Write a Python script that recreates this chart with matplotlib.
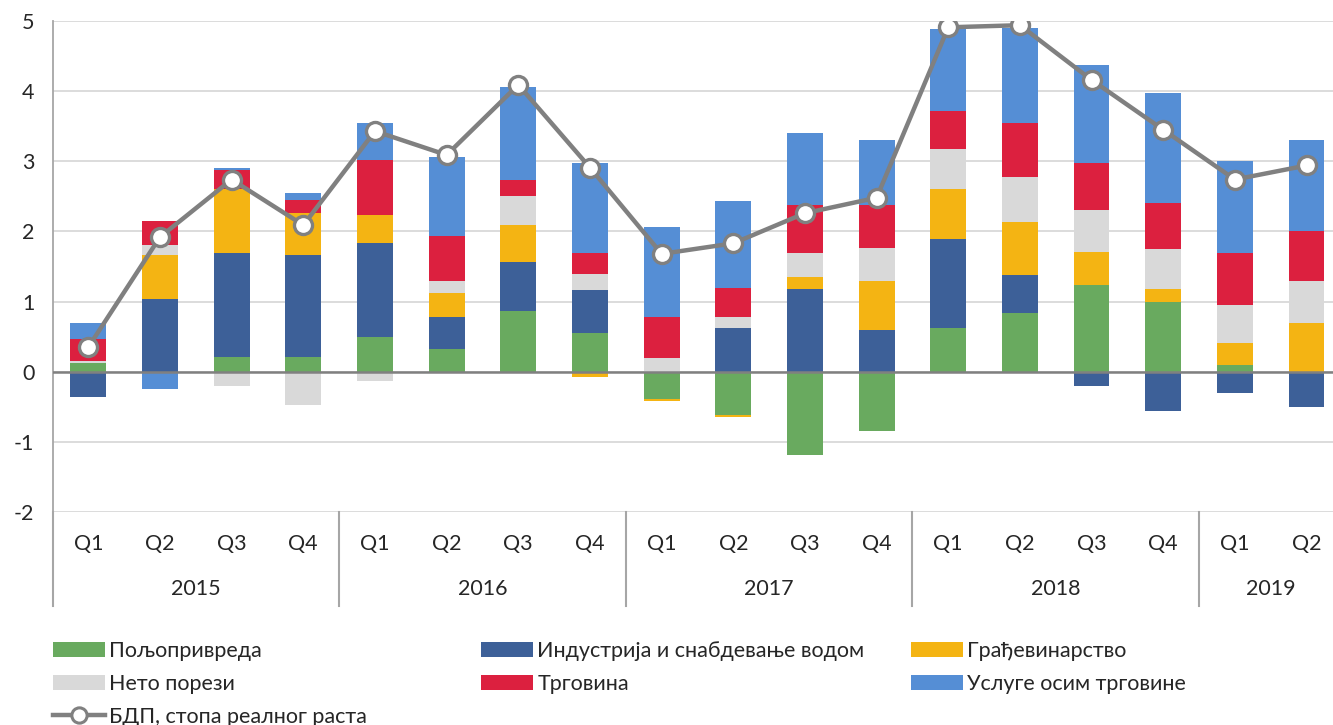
import matplotlib
matplotlib.use("Agg")
import matplotlib.pyplot as plt
import matplotlib.transforms as mtransforms
from matplotlib.patches import Patch
from matplotlib.lines import Line2D
import numpy as np

plt.rcParams['font.family'] = ['Lato', 'DejaVu Sans']
plt.rcParams['axes.unicode_minus'] = False

quarters = ["Q1", "Q2", "Q3", "Q4"] * 4 + ["Q1", "Q2"]
years = ["2015", "2016", "2017", "2018", "2019"]
year_sizes = [4, 4, 4, 4, 2]

agriculture  = [0.13, 0.00, 0.21, 0.21, 0.50, 0.32, 0.87, 0.55, -0.39, -0.62, -1.19, -0.85, 0.63, 0.83, 1.23, 1.00, 0.10, 0.00]
industry     = [-0.36, 1.03, 1.48, 1.45, 1.33, 0.46, 0.70, 0.62, 0.00, 0.63, 1.18, 0.60, 1.26, 0.55, -0.21, -0.56, -0.30, -0.50]
construction = [0.00, 0.63, 0.91, 0.60, 0.40, 0.34, 0.52, -0.08, -0.03, -0.02, 0.17, 0.69, 0.71, 0.76, 0.48, 0.18, 0.31, 0.70]
net_taxes    = [0.02, 0.14, -0.21, -0.47, -0.13, 0.17, 0.42, 0.23, 0.20, 0.15, 0.34, 0.48, 0.57, 0.63, 0.60, 0.57, 0.54, 0.59]
trade        = [0.31, 0.35, 0.28, 0.19, 0.79, 0.65, 0.23, 0.29, 0.58, 0.42, 0.68, 0.60, 0.54, 0.77, 0.66, 0.65, 0.74, 0.71]
services     = [0.23, -0.24, 0.03, 0.10, 0.52, 1.12, 1.32, 1.28, 1.28, 1.23, 1.03, 0.94, 1.17, 1.36, 1.40, 1.57, 1.31, 1.31]
gdp          = [0.35, 1.92, 2.74, 2.09, 3.43, 3.09, 4.09, 2.91, 1.68, 1.83, 2.26, 2.48, 4.91, 4.94, 4.16, 3.45, 2.74, 2.94]

series_names = ["Пољопривреда", "Индустрија и снабдевање водом", "Грађевинарство",
                "Нето порези", "Трговина", "Услуге осим трговине"]
gdp_name = "БДП, стопа реалног раста"
colors = ["#69AA5F", "#3D6098", "#F4B413", "#D9D9D9", "#DC203F", "#558ED5"]

FS = 15.5
TXT = "#262626"

fig = plt.figure(figsize=(13.33, 7.25), dpi=100)
W, H = 1333, 725
left_px, right_px, top_px, bottom_px = 52.5, 1333, 21, 512
ax = fig.add_axes([left_px / W, 1 - bottom_px / H, (right_px - left_px) / W, (bottom_px - top_px) / H])

cat_w = 71.66
x = np.arange(len(quarters))
data = [agriculture, industry, construction, net_taxes, trade, services]
pos_base = np.zeros(len(x))
neg_base = np.zeros(len(x))
for vals, col in zip(data, colors):
    v = np.array(vals)
    base = np.where(v >= 0, pos_base, neg_base)
    ax.bar(x, v, width=0.5, bottom=base, color=col, zorder=2)
    pos_base = pos_base + np.where(v > 0, v, 0)
    neg_base = neg_base + np.where(v < 0, v, 0)

ax.plot(x, gdp, color="#808080", lw=3.2, marker="o", ms=13, mfc="white",
        mec="#808080", mew=2.4, zorder=4)

ax.set_ylim(-2, 5)
ax.set_xlim(-0.5, -0.5 + (right_px - left_px) / cat_w)
ax.set_yticks(range(-2, 6))
ax.yaxis.grid(True, color="#D9D9D9", lw=1.3, zorder=0)
ax.axhline(0, color="#808080", lw=1.8, zorder=3)
for s in ["top", "right", "bottom"]:
    ax.spines[s].set_visible(False)
ax.spines["left"].set_color("#A6A6A6")
ax.spines["left"].set_linewidth(1.3)
ax.tick_params(axis="y", length=0, labelsize=FS, pad=13, colors=TXT)
ax.set_xticks(x)
ax.set_xticklabels(quarters)
ax.tick_params(axis="x", length=0, labelsize=FS, pad=16, colors=TXT)

# year labels and separators
trans = mtransforms.blended_transform_factory(ax.transData, fig.transFigure)
y_year = 1 - 589 / H
y_sep_bot = 1 - 606 / H
y_sep_top = 1 - 512 / H
start = 0
bounds = [-0.5]
for yr, n in zip(years, year_sizes):
    center = start + (n - 1) / 2
    fig.text(center, y_year, yr, transform=trans, ha="center", va="center",
             fontsize=FS, color=TXT)
    start += n
    bounds.append(start - 0.5)
for b in bounds[:-1]:
    fig.add_artist(Line2D([b, b], [y_sep_bot, y_sep_top], transform=trans,
                          color="#A6A6A6", lw=1.5))

# legend (manual positions, row-major like the original)
col_x = [53, 481, 911]
row_y = [651, 684, 717]
hl_len = 52 / (FS * 100 / 72)
for i, (name, col) in enumerate(zip(series_names, colors)):
    r, c = divmod(i, 3)
    h = Patch(facecolor=col, edgecolor="none")
    lg = fig.legend(handles=[h], labels=[name], loc="center left",
                    bbox_to_anchor=(col_x[c] / W, 1 - row_y[r] / H),
                    frameon=False, fontsize=FS, handlelength=hl_len, handleheight=0.7,
                    handletextpad=0.2, borderpad=0, borderaxespad=0)
    for t in lg.get_texts():
        t.set_color(TXT)
hl = Line2D([], [], color="#808080", lw=3.2, marker="o", ms=11, mfc="white",
            mec="#808080", mew=2.2)
lg = fig.legend(handles=[hl], labels=[gdp_name], loc="center left",
                bbox_to_anchor=(col_x[0] / W, 1 - row_y[2] / H),
                frameon=False, fontsize=FS, handlelength=hl_len,
                handletextpad=0.2, borderpad=0, borderaxespad=0)
for t in lg.get_texts():
    t.set_color(TXT)

fig.savefig("out.png", dpi=100)
